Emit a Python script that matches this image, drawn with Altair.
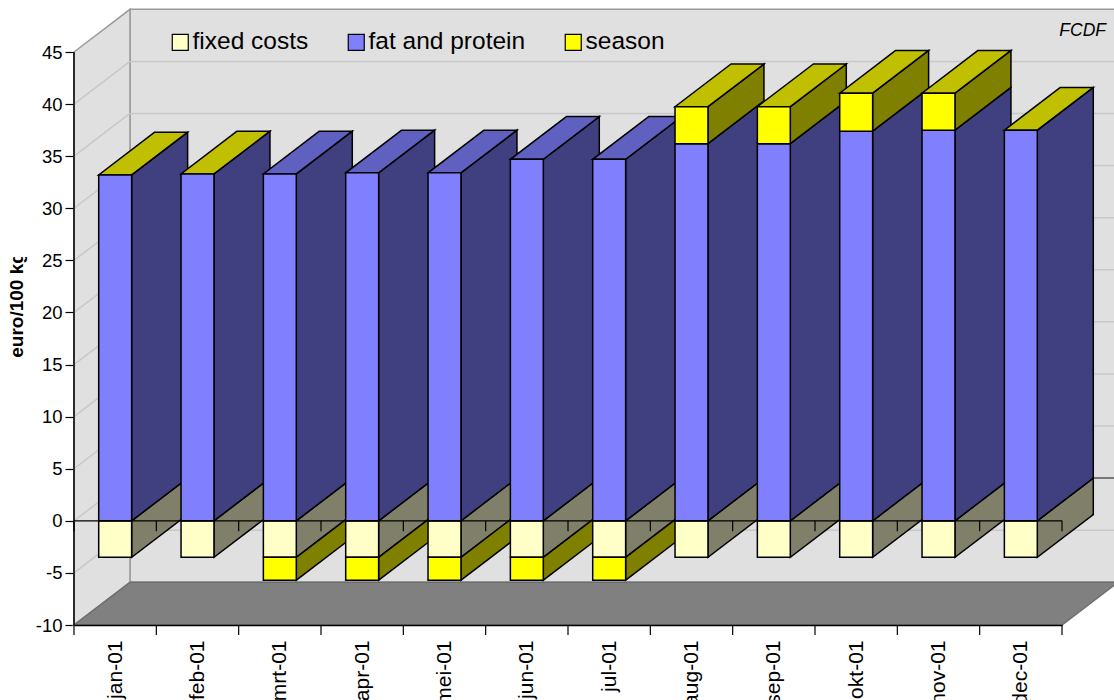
import altair as alt
import pandas as pd

months = ["jan-01", "feb-01", "mrt-01", "apr-01", "mei-01", "jun-01",
          "jul-01", "aug-01", "sep-01", "okt-01", "nov-01", "dec-01"]
fixed_costs = [-3.5] * 12
fat_protein = [33.2, 33.3, 33.3, 33.4, 33.4, 34.7, 34.7, 36.2, 36.2, 37.4, 37.5, 37.5]
season = [0, 0, -2.2, -2.2, -2.2, -2.2, -2.2, 3.55, 3.55, 3.65, 3.55, 0]
y_ticks = [-10, -5, 0, 5, 10, 15, 20, 25, 30, 35, 40, 45]

# Oblique projection: how far the back of the box is shifted, in axis units
DEPTH_X = 0.68
DEPTH_Y = 4.1
BAR_START = 0.30
BAR_END = 0.70

FONT = "Liberation Sans"
names = ["fixed costs", "fat and protein", "season",
         "fixed side", "fat side", "season side",
         "fixed top", "fat top", "season top"]
shades = ["#ffffc8", "#8080ff", "#ffff00",
          "#80806a", "#404080", "#808000",
          "#c0c096", "#6060c0", "#c0c000"]

x_scale = alt.Scale(domain=[0, 12], nice=False, zero=False)
y_scale = alt.Scale(domain=[-10, 45], nice=False, zero=False)
fill_scale = alt.Scale(domain=names, range=shades)
fill = alt.Fill(
    "series:N", scale=fill_scale,
    legend=alt.Legend(
        values=names[:3], title=None, orient="none", direction="horizontal",
        columns=3, legendX=94, legendY=-22, symbolType="square", symbolSize=256,
        symbolStrokeColor="black", symbolStrokeWidth=1.2, symbolOpacity=1,
        labelFont=FONT, labelFontSize=24.5, labelColor="black", labelOffset=0,
        columnPadding=35, labelLimit=300, symbolOffset=0, padding=0,
    ),
)


def qx(field="x"):
    return alt.X(f"{field}:Q", scale=x_scale, axis=None, stack=None, title=None)


def qy(field="y"):
    return alt.Y(f"{field}:Q", scale=y_scale, axis=None, stack=None, title=None)


# Walls, floor and gridlines of the box
back_wall = alt.Chart(pd.DataFrame({
    "x": [DEPTH_X], "x2": [12 + DEPTH_X], "y": [-10 + DEPTH_Y], "y2": [45 + DEPTH_Y],
})).mark_rect(fill="#e0e0e0", stroke="#999999", strokeWidth=1.5).encode(
    x=alt.X("x:Q", scale=x_scale, title=None, axis=alt.Axis(
        values=[i + 0.5 for i in range(12)],
        labelExpr="%s[round(datum.value - 0.5)]" % str(months),
        labelAngle=270, labelFont=FONT, labelFontSize=21, labelColor="black",
        labelPadding=15, labelAlign="right", labelBaseline="middle",
        ticks=False, grid=False, domainColor="black", domainWidth=1.5, zindex=1,
    )),
    x2="x2:Q",
    y=alt.Y("y:Q", scale=y_scale, title="euro/100 kg", axis=alt.Axis(
        values=y_ticks, grid=False, labelFont=FONT, labelFontSize=18.5,
        labelExpr="'' + datum.value",
        labelColor="black", labelPadding=3, tickSize=9, tickColor="black",
        tickWidth=1.2, domainColor="black", domainWidth=1.5,
        titleFont=FONT, titleFontSize=19, titleFontWeight="bold", titleColor="black",
        titleX=-48, titleY=252.5, titleAlign="center", titleAngle=270,
    )),
    y2="y2:Q",
)

left_wall = alt.Chart(pd.DataFrame({
    "x": [0, DEPTH_X], "y": [-10, -10 + DEPTH_Y], "y2": [45, 45 + DEPTH_Y],
})).mark_area(orient="vertical", fill="#e0e0e0", stroke="#999999", strokeWidth=1.5).encode(
    x=qx(), y=qy(), y2="y2:Q",
)

floor = alt.Chart(pd.DataFrame({
    "y": [-10, -10 + DEPTH_Y], "x": [0, DEPTH_X], "x2": [12, 12 + DEPTH_X],
})).mark_area(orient="horizontal", fill="#808080", stroke="#6e6e6e", strokeWidth=1.5).encode(
    x=qx(), x2="x2:Q", y=qy(),
)

back_grid = alt.Chart(pd.DataFrame({
    "x": DEPTH_X, "x2": 12 + DEPTH_X, "y": [v + DEPTH_Y for v in y_ticks[1:-1]],
    "shade": ["#c8c8c8" if v != 0 else "#555555" for v in y_ticks[1:-1]],
})).mark_rule(strokeWidth=1.5).encode(
    x=qx(), x2="x2:Q", y=qy(), color=alt.Color("shade:N", scale=None),
)

side_grid = alt.Chart(pd.DataFrame({
    "level": [v for v in y_ticks[1:-1] for _ in (0, 1)],
    "x": [d for _ in y_ticks[1:-1] for d in (0, DEPTH_X)],
    "y": [v + d for v in y_ticks[1:-1] for d in (0, DEPTH_Y)],
})).mark_line(color="#c8c8c8", strokeWidth=1.5).encode(
    x=qx(), y=qy(), detail="level:N",
)

layers = [back_wall, left_wall, floor, back_grid, side_grid]


# Three faces of every stacked bar, painted left to right so nearer bars overlap
def bar_layers(i):
    left, right = i + BAR_START, i + BAR_END
    pos = [("fat", "fat and protein", 0, fat_protein[i])]
    neg = [("fixed", "fixed costs", 0, fixed_costs[i])]
    if season[i] > 0:
        pos.append(("season", "season", fat_protein[i], fat_protein[i] + season[i]))
    elif season[i] < 0:
        neg.append(("season", "season", fixed_costs[i], fixed_costs[i] + season[i]))
    segments = neg + pos

    sides = pd.DataFrame([
        {"series": f"{key} side", "part": n, "x": x, "y": lo + dy, "y2": hi + dy}
        for n, (key, _, lo, hi) in enumerate(segments)
        for x, dy in ((right, 0), (right + DEPTH_X, DEPTH_Y))
    ])
    top_key = "fat" if season[i] < 0 else "season"
    top_value = max(hi for _, _, _, hi in pos)
    tops = pd.DataFrame([
        {"series": f"{top_key} top", "x": left + dx, "x2": right + dx, "y": top_value + dy}
        for dx, dy in ((0, 0), (DEPTH_X, DEPTH_Y))
    ])
    fronts = pd.DataFrame([
        {"series": label, "x": left, "x2": right, "y": lo, "y2": hi}
        for _, label, lo, hi in segments
    ])
    return [
        alt.Chart(sides).mark_area(orient="vertical", stroke="black", strokeWidth=1.5, opacity=1).encode(
            x=qx(), y=qy(), y2="y2:Q", fill=fill, detail="part:N"),
        alt.Chart(tops).mark_area(orient="horizontal", stroke="black", strokeWidth=1.5, opacity=1).encode(
            x=qx(), x2="x2:Q", y=qy(), fill=fill),
        alt.Chart(fronts).mark_rect(stroke="black", strokeWidth=1.5, opacity=1).encode(
            x=qx(), x2="x2:Q", y=qy(), y2="y2:Q", fill=fill),
    ]


for i in range(12):
    layers.extend(bar_layers(i))

# Axis lines and category ticks that run over the box
boundaries = list(range(13))
zero_line = alt.Chart(pd.DataFrame({"x": [0], "x2": [12], "y": [0]})).mark_rule(
    color="black", strokeWidth=1.2).encode(x=qx(), x2="x2:Q", y=qy())
y_line = alt.Chart(pd.DataFrame({"x": [0], "y": [-10], "y2": [45]})).mark_rule(
    color="black", strokeWidth=1.5).encode(x=qx(), y=qy(), y2="y2:Q")
zero_ticks = alt.Chart(pd.DataFrame({"x": boundaries, "y": 0, "y2": -1})).mark_rule(
    color="black", strokeWidth=1.2).encode(x=qx(), y=qy(), y2="y2:Q")
bottom_ticks = alt.Chart(pd.DataFrame({"x": boundaries, "y": -10, "y2": -10.95})).mark_rule(
    color="black", strokeWidth=1.2).encode(x=qx(), y=qy(), y2="y2:Q")
# Shortens the rotated axis title at its upper end
title_trim = alt.Chart(pd.DataFrame({"a": [0]})).mark_rect(color="white").encode(
    x=alt.value(-70), x2=alt.value(-40), y=alt.value(185), y2=alt.value(205))
source_note = alt.Chart(pd.DataFrame({"note": ["FCDF"]})).mark_text(
    font=FONT, fontSize=17.5, fontStyle="italic", color="black",
    align="right", baseline="alphabetic",
).encode(x=alt.value(1032), y=alt.value(-16), text="note:N")
layers += [zero_line, y_line, zero_ticks, bottom_ticks, title_trim, source_note]

chart = alt.layer(*layers).resolve_axis(x="independent", y="independent").properties(
    width=988, height=573,
    padding={"left": 74, "top": 52, "right": 52, "bottom": 75},
    autosize=alt.AutoSizeParams(type="none"),
).configure_view(stroke=None).configure(background="white")

chart.save("out.html", embed_options={"renderer": "svg", "actions": False})
